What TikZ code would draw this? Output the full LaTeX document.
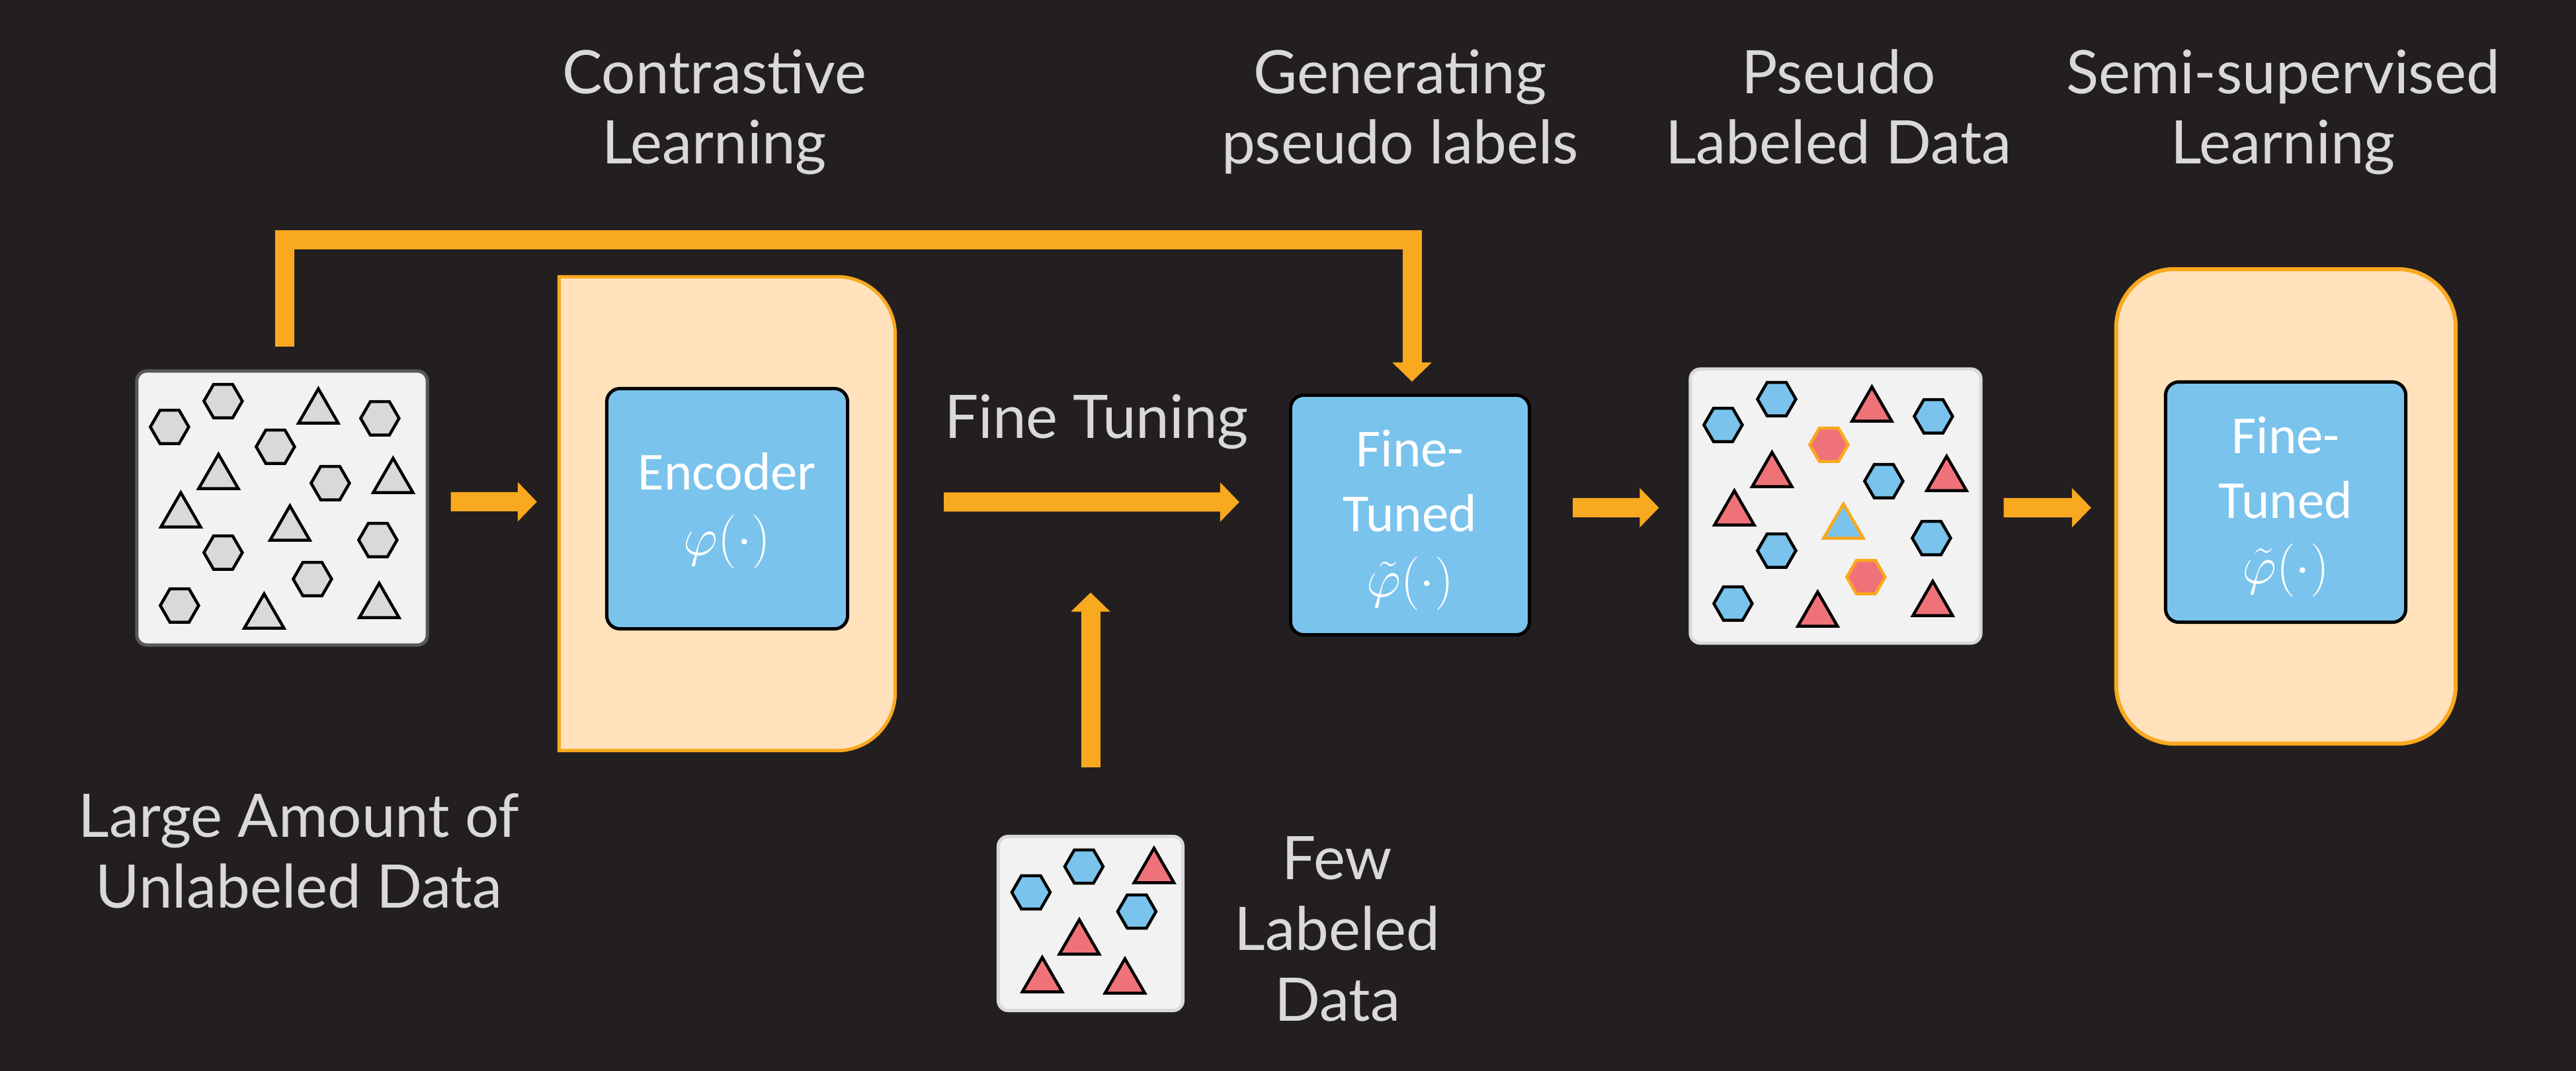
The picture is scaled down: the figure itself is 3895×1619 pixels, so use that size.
\RequirePackage{fix-cm}
\documentclass[tikz,border=0pt]{standalone}
\usepackage[no-math]{fontspec}
\setmainfont{Lato}
\newfontfamily\boxfont{Carlito}
\usetikzlibrary{arrows.meta, positioning, shapes.geometric, calc}

\definecolor{bgdark}{HTML}{231F20}
\definecolor{flowor}{HTML}{F9A91F}
\definecolor{peach}{HTML}{FFE2BB}
\definecolor{skyblue}{HTML}{7AC3EC}
\definecolor{salmon}{HTML}{F07279}
\definecolor{paper}{HTML}{F2F2F2}
\definecolor{lightgr}{HTML}{D9D9D9}
\definecolor{darkgr}{HTML}{595959}

\begin{document}
\begin{tikzpicture}[x={(0.01cm,0)}, y={(0,-0.01cm)},
    flow/.style={draw=flowor, line width=0.29cm, -{Triangle[length=0.29cm, width=0.58cm]}},
    stagetext/.style={text=lightgr, font=\fontsize{25.8}{30.4}\selectfont, align=center, anchor=base, inner sep=0},
    panel/.style={draw=lightgr, fill=paper, line width=0.05cm, rounded corners=0.15cm, inner sep=0},
    model/.style={draw=black, fill=skyblue, line width=0.05cm, rounded corners=0.2cm, text=white,
        font=\boxfont\fontsize{23}{28}\selectfont, align=center, inner sep=0, text depth=0cm},
    hexa/.style={regular polygon, regular polygon sides=6, minimum size=0.58cm, inner sep=0, draw=black, line width=0.045cm},
    tri/.style={regular polygon, regular polygon sides=3, minimum size=0.693cm, inner sep=0, draw=black, line width=0.045cm}]

    \useasboundingbox (0,0) rectangle (3895,1619);
    \fill[bgdark] (0,0) rectangle (3895,1619);

    % Unlabeled data
    \node[panel, draw=darkgr, minimum width=4.39cm, minimum height=4.14cm] (unl) at (426.5,768) {};
    \begin{scope}[shift={(unl.north west)}]
        \foreach \x/\y [count=\i] in {52/87, 133/48, 370/74, 212/117, 295/172, 367/258, 133/277, 268/317, 67/357}
            \node[hexa, fill=lightgr] (uh\i) at (\x,\y) {};
        \foreach \x/\y [count=\i] in {277/64, 126/163, 390/169, 69/221, 234/241, 195/374, 369/358}
            \node[tri, fill=lightgr] (ut\i) at (\x,\y) {};
    \end{scope}
    \node[stagetext] (unltext) at (452,1372) {Large Amount of\\Unlabeled Data};

    % Contrastive learning
    \node[minimum width=5.08cm, minimum height=7.16cm, inner sep=0, outer sep=0] (clbox) at (1099.5,776.5) {};
    \draw[draw=flowor, fill=peach, line width=0.05cm] (clbox.north west) -- ([xshift=-0.88cm]clbox.north east)
        arc[start angle=90, end angle=0, radius=0.88cm] -- ([yshift=0.88cm]clbox.south east)
        arc[start angle=0, end angle=-90, radius=0.88cm] -- (clbox.south west) -- cycle;
    \node[model, minimum width=3.64cm, minimum height=3.63cm, text height=1.4cm] (enc) at (1099.5,769) {Encoder\\$\varphi(\cdot)$};
    \node[stagetext] (cltext) at (1080,248) {Contrastive\\Learning};

    % Fine tuning
    \node[model, minimum width=3.61cm, minimum height=3.62cm, text height=2.47cm] (ft) at (2132,778.5) {Fine-\\Tuned\\$\tilde{\varphi}(\cdot)$};
    \node[stagetext] (fttext) at (1658,663) {Fine Tuning};
    \node[stagetext] (gptext) at (2117,248) {Generating\\pseudo labels};

    % Few labeled data
    \node[panel, minimum width=2.79cm, minimum height=2.63cm] (few) at (1649,1396) {};
    \begin{scope}[shift={(few.north west)}]
        \foreach \x/\y [count=\i] in {52/87, 132/48, 212/116}
            \node[hexa, fill=skyblue] (fh\i) at (\x,\y) {};
        \foreach \x/\y [count=\i] in {238/55, 125/163, 69/220, 194/222}
            \node[tri, fill=salmon] (ft\i) at (\x,\y) {};
    \end{scope}
    \node[stagetext] (fewtext) at (2022,1543) {Few\\Labeled\\Data};

    % Pseudo labeled data
    \node[panel, minimum width=4.39cm, minimum height=4.14cm] (pl) at (2775.5,765) {};
    \begin{scope}[shift={(pl.north west)}]
        \foreach \x/\y [count=\i] in {52/87, 133/48, 370/74, 295/172, 367/258, 133/277, 67/357}
            \node[hexa, fill=skyblue] (ph\i) at (\x,\y) {};
        \node[hexa, fill=salmon, draw=flowor] (ph8) at (212,117) {};
        \node[hexa, fill=salmon, draw=flowor] (ph9) at (268,317) {};
        \foreach \x/\y [count=\i] in {277/64, 126/163, 390/169, 69/221, 195/374, 369/358}
            \node[tri, fill=salmon] (pt\i) at (\x,\y) {};
        \node[tri, fill=skyblue, draw=flowor] (pt7) at (234,241) {};
    \end{scope}
    \node[stagetext] (pldtext) at (2780,248) {Pseudo\\Labeled Data};

    % Semi-supervised learning
    \node[draw=flowor, fill=peach, line width=0.06cm, rounded corners=0.88cm, minimum width=5.13cm,
        minimum height=7.17cm, inner sep=0] (ssl) at (3456.5,765.5) {};
    \node[model, minimum width=3.63cm, minimum height=3.63cm, text height=2.46cm] (ft2) at (3456,759) {Fine-\\Tuned\\$\tilde{\varphi}(\cdot)$};
    \node[stagetext] (ssltext) at (3452,248) {Semi-supervised\\Learning};

    % Arrows
    \draw[flow] ([xshift=0.04cm,yshift=0.34cm]unl.north) -- ++(0,-161.5) -| ([xshift=0.03cm,yshift=0.18cm]ft.north);
    \draw[flow] ([xshift=0.33cm,yshift=0.095cm]unl.east) -- ([xshift=-0.335cm,yshift=0.18cm]clbox.west);
    \draw[flow] ([xshift=0.735cm,yshift=0.175cm]clbox.east) -- ([xshift=-0.75cm,yshift=0.195cm]ft.west);
    \draw[flow] ([yshift=1.02cm]few.north) -- ([yshift=3.66cm]few.north);
    \draw[flow] ([xshift=0.63cm,yshift=0.11cm]ft.east) -- ([xshift=-0.45cm,yshift=-0.025cm]pl.west);
    \draw[flow] ([xshift=0.32cm,yshift=-0.025cm]pl.east) -- ([xshift=-0.35cm,yshift=-0.02cm]ssl.west);
\end{tikzpicture}
\end{document}
